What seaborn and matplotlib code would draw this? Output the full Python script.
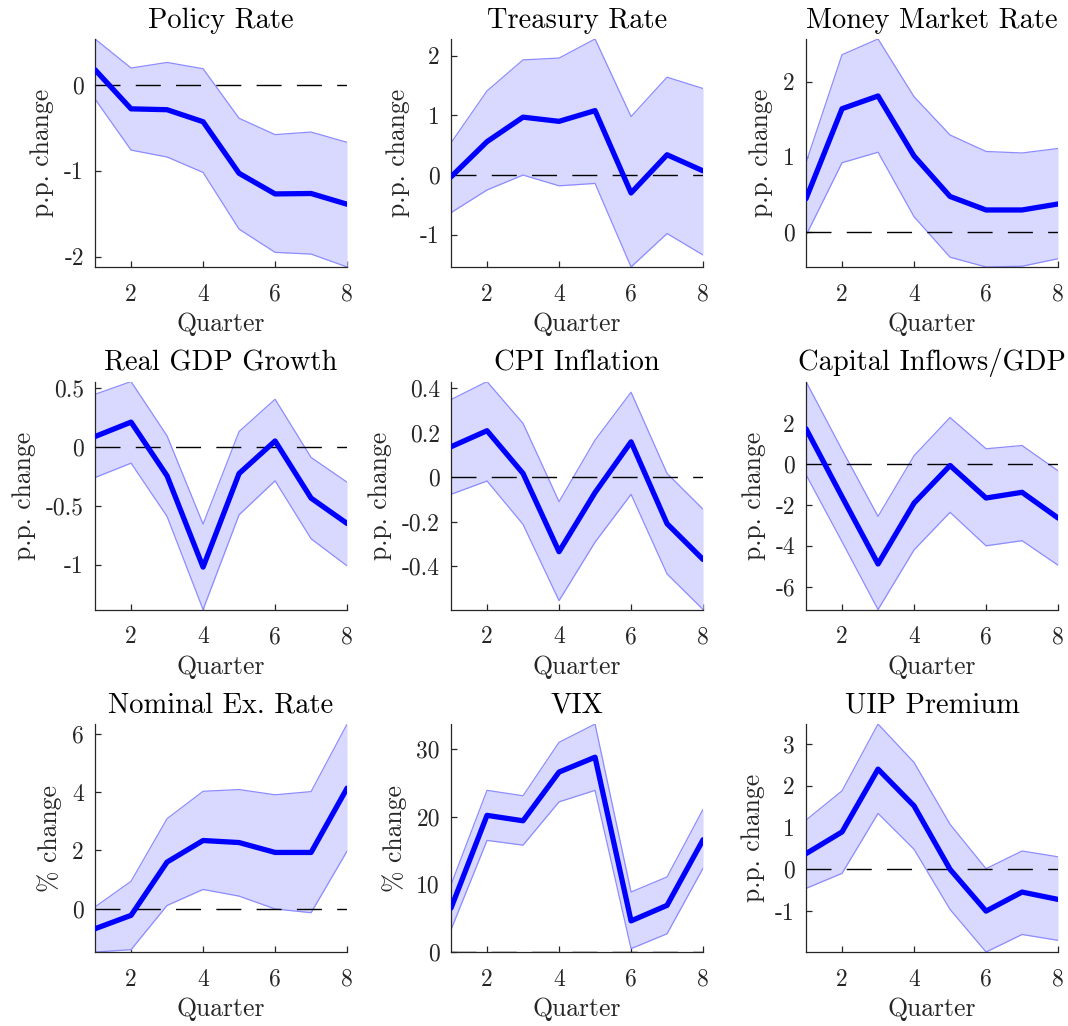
import numpy as np
import pandas as pd
import matplotlib
matplotlib.use("Agg")
import matplotlib.pyplot as plt
import seaborn as sns
from matplotlib.ticker import FuncFormatter

sns.set_theme(style="white")
plt.rcParams['font.family'] = ['cmr10', 'DejaVu Serif']
plt.rcParams['axes.unicode_minus'] = False
plt.rcParams['axes.formatter.use_mathtext'] = False
plt.rcParams['lines.scale_dashes'] = False

quarters = [1, 2, 3, 4, 5, 6, 7, 8]

titles = ["Policy Rate", "Treasury Rate", "Money Market Rate",
          "Real GDP Growth", "CPI Inflation", "Capital Inflows/GDP",
          "Nominal Ex. Rate", "VIX", "UIP Premium"]
ylabels = ["p.p. change", "p.p. change", "p.p. change",
           "p.p. change", "p.p. change", "p.p. change",
           "% change", "% change", "p.p. change"]

policy_mean = [0.175, -0.28, -0.29, -0.43, -1.03, -1.27, -1.265, -1.39]
policy_up = [0.533, 0.195, 0.26, 0.187, -0.39, -0.58, -0.55, -0.67]
policy_lo = [-0.167, -0.76, -0.84, -1.02, -1.68, -1.95, -1.97, -2.12]

treasury_mean = [-0.03, 0.56, 0.97, 0.90, 1.08, -0.30, 0.34, 0.07]
treasury_up = [0.54, 1.41, 1.93, 1.96, 2.28, 0.98, 1.64, 1.45]
treasury_lo = [-0.63, -0.25, 0.0, -0.18, -0.14, -1.54, -0.98, -1.34]

mm_mean = [0.44, 1.64, 1.81, 1.01, 0.47, 0.29, 0.29, 0.37]
mm_up = [0.92, 2.36, 2.57, 1.80, 1.29, 1.07, 1.05, 1.11]
mm_lo = [-0.05, 0.92, 1.06, 0.20, -0.34, -0.47, -0.46, -0.36]

gdp_mean = [0.088, 0.21, -0.246, -1.02, -0.226, 0.05, -0.435, -0.65]
gdp_up = [0.446, 0.554, 0.093, -0.655, 0.13, 0.404, -0.09, -0.30]
gdp_lo = [-0.26, -0.138, -0.59, -1.38, -0.576, -0.288, -0.78, -1.01]

cpi_mean = [0.137, 0.209, 0.017, -0.335, -0.069, 0.159, -0.209, -0.37]
cpi_up = [0.349, 0.43, 0.242, -0.11, 0.167, 0.382, 0.017, -0.144]
cpi_lo = [-0.077, -0.017, -0.212, -0.555, -0.292, -0.077, -0.435, -0.595]

cap_mean = [1.73, -1.6, -4.89, -1.91, -0.07, -1.66, -1.38, -2.64]
cap_up = [4.04, 0.7, -2.56, 0.41, 2.28, 0.75, 0.91, -0.33]
cap_lo = [-0.52, -3.8, -7.12, -4.2, -2.36, -4.0, -3.75, -4.95]

fx_mean = [-0.69, -0.23, 1.6, 2.34, 2.27, 1.93, 1.93, 4.14]
fx_up = [0.06, 0.94, 3.09, 4.03, 4.09, 3.91, 4.02, 6.34]
fx_lo = [-1.49, -1.41, 0.11, 0.66, 0.43, -0.01, -0.14, 1.98]

vix_mean = [6.5, 20.2, 19.4, 26.6, 28.8, 4.6, 6.9, 16.6]
vix_up = [9.95, 23.9, 23.1, 31.0, 33.7, 8.87, 11.1, 21.1]
vix_lo = [3.3, 16.5, 15.8, 22.2, 23.9, 0.5, 2.7, 12.4]

uip_mean = [0.376, 0.896, 2.4, 1.52, 0.0, -1.0, -0.544, -0.72]
uip_up = [1.18, 1.88, 3.48, 2.56, 1.08, 0.016, 0.44, 0.30]
uip_lo = [-0.456, -0.096, 1.34, 0.48, -0.96, -1.98, -1.56, -1.70]

means = [policy_mean, treasury_mean, mm_mean, gdp_mean, cpi_mean, cap_mean,
         fx_mean, vix_mean, uip_mean]
uppers = [policy_up, treasury_up, mm_up, gdp_up, cpi_up, cap_up,
          fx_up, vix_up, uip_up]
lowers = [policy_lo, treasury_lo, mm_lo, gdp_lo, cpi_lo, cap_lo,
          fx_lo, vix_lo, uip_lo]

yticks = [[-2, -1, 0], [-1, 0, 1, 2], [0, 1, 2],
          [-1, -0.5, 0, 0.5], [-0.4, -0.2, 0, 0.2, 0.4], [-6, -4, -2, 0, 2],
          [0, 2, 4, 6], [0, 10, 20, 30], [-1, 0, 1, 2, 3]]
xticks = [2, 4, 6, 8]

fig = plt.figure(figsize=(10.68, 10.26), dpi=100)

lefts = [0.0890, 0.4223, 0.7547]
bottoms = [0.7398, 0.4059, 0.0721]
w, h = 0.236, 0.2222

axcol = '#262626'
fmt = FuncFormatter(lambda v, p: ('%g' % v))

for i in range(9):
    r, c = divmod(i, 3)
    ax = fig.add_axes([lefts[c], bottoms[r], w, h])
    df = pd.DataFrame({"Quarter": quarters, "mean": means[i],
                       "up": uppers[i], "lo": lowers[i]})
    ax.fill_between(df["Quarter"], df["lo"], df["up"], color='#D9D9FF',
                    linewidth=0, zorder=1)
    sns.lineplot(data=df, x="Quarter", y="up", ax=ax, color='#8C8CFF',
                 linewidth=0.9, zorder=2)
    sns.lineplot(data=df, x="Quarter", y="lo", ax=ax, color='#8C8CFF',
                 linewidth=0.9, zorder=2)
    ax.axhline(0, color='black', linewidth=1.0, dashes=(18, 11), zorder=3)
    sns.lineplot(data=df, x="Quarter", y="mean", ax=ax, color='#0000FF',
                 linewidth=3.8, zorder=4)
    lo = min(min(lowers[i]), 0)
    hi = max(max(uppers[i]), 0)
    ax.set_xlim(1, 8)
    ax.set_ylim(lo, hi)
    ax.set_xticks(xticks)
    ax.set_yticks(yticks[i])
    ax.yaxis.set_major_formatter(fmt)
    ax.xaxis.set_major_formatter(fmt)
    for s in ['top', 'right']:
        ax.spines[s].set_visible(False)
    for s in ['left', 'bottom']:
        ax.spines[s].set_color(axcol)
        ax.spines[s].set_linewidth(0.9)
    ax.tick_params(direction='in', length=4, width=0.9, colors=axcol,
                   labelsize=17, labelcolor=axcol, left=True, bottom=True)
    ax.tick_params(axis='y', pad=8)
    ax.tick_params(axis='x', pad=12)
    ax.set_title(titles[i], fontsize=20.5, color='black', pad=8)
    ax.set_xlabel("Quarter", fontsize=18.5, color=axcol, labelpad=5)
    ax.set_ylabel(ylabels[i], fontsize=18.5, color=axcol, labelpad=7)

fig.savefig("out.png", dpi=100, facecolor='white')
